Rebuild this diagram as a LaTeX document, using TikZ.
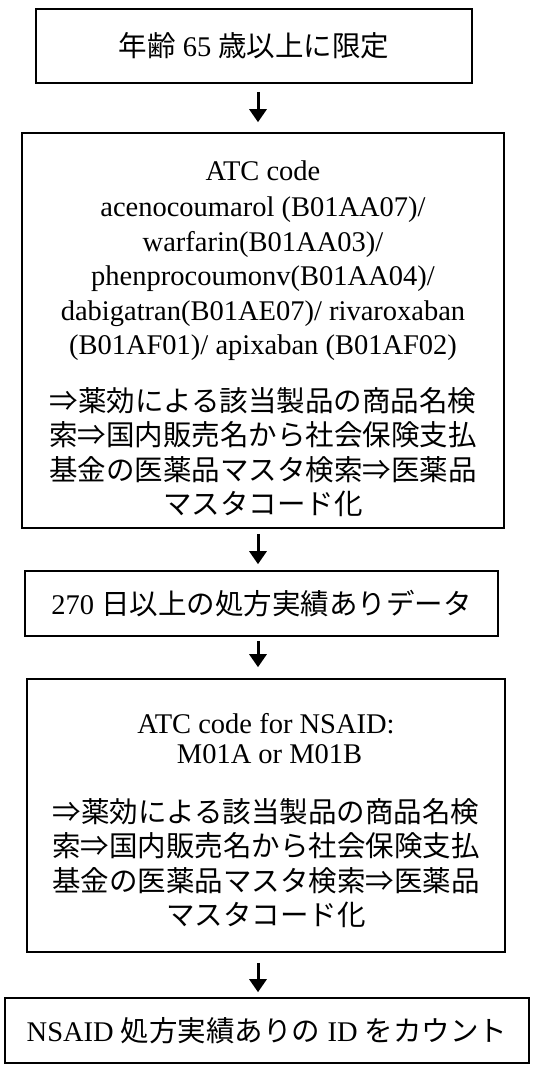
\documentclass[tikz,border=0pt]{standalone}
\usepackage{fontspec}
\setmainfont{Liberation Serif}
\newfontfamily\jp{Noto Sans CJK JP}
\usetikzlibrary{arrows.meta}
\begin{document}
\begin{tikzpicture}[x=1pt,y=-1pt,
  box/.style={draw, line width=1.6pt, inner sep=0pt, align=center,
    font=\fontsize{28.5}{34.5}\selectfont},
  arr/.style={line width=3pt, -{Triangle[width=17pt,length=13pt]}}]
\useasboundingbox (0,0) rectangle (533,1068);
\node[box, minimum width=436pt, minimum height=74pt] (b1) at (254,46)
  {{\jp 年齢}\ 65\ {\jp 歳以上に限定}};
\node[box, minimum width=482pt, minimum height=395pt] (b2) at (263,330.5)
  {\rule{0pt}{36pt}ATC code\\[2pt]
   acenocoumarol (B01AA07)/\\
   warfarin(B01AA03)/\\
   phenprocoumonv(B01AA04)/\\
   dabigatran(B01AE07)/ rivaroxaban\\
   (B01AF01)/ apixaban (B01AF02)\\[22pt]
   {\jp ⇒薬効による該当製品の商品名検}\\
   {\jp 索⇒国内販売名から社会保険支払}\\
   {\jp 基金の医薬品マスタ検索⇒医薬品}\\
   {\jp マスタコード化}};
\node[box, minimum width=473pt, minimum height=65pt] (b3) at (261.5,603.5)
  {270\ {\jp 日以上の処方実績ありデータ}};
\node[box, minimum width=478pt, minimum height=273pt] (b4) at (266,815.5)
  {\rule{0pt}{30pt}ATC code for NSAID:\\[-4pt]
   \ M01A or M01B\\[24pt]
   {\jp ⇒薬効による該当製品の商品名検}\\
   {\jp 索⇒国内販売名から社会保険支払}\\
   {\jp 基金の医薬品マスタ検索⇒医薬品}\\
   {\jp マスタコード化}};
\node[box, minimum width=524pt, minimum height=65pt] (b5) at (267,1030.5)
  {NSAID\ {\jp 処方実績ありの}\ ID\ {\jp をカウント}};
\coordinate (ax) at (258,0);
\draw[arr, shorten <=8pt, shorten >=10pt] (b1.south -| ax) -- (b2.north -| ax);
\draw[arr, shorten <=5pt, shorten >=6pt] (b2.south -| ax) -- (b3.north -| ax);
\draw[arr, shorten <=4pt, shorten >=11pt] (b3.south -| ax) -- (b4.north -| ax);
\draw[arr, shorten <=10pt, shorten >=5pt] (b4.south -| ax) -- (b5.north -| ax);
\end{tikzpicture}
\end{document}
